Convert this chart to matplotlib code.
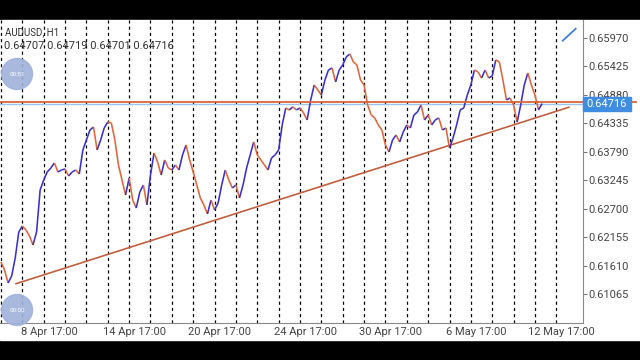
import numpy as np
import matplotlib
matplotlib.use("Agg")
import matplotlib.pyplot as plt
from matplotlib.collections import LineCollection
from matplotlib.patches import Circle, Rectangle
from matplotlib.lines import Line2D

plt.rcParams['font.family'] = ['Roboto', 'DejaVu Sans']

# AUDUSD H1 closes, one every 4 bars, bar 0 = 6 Apr 17:00
step = 4
closes = [
    0.61687, 0.61534, 0.61285, 0.61419, 0.61763, 0.62261, 0.62375, 0.62299, 0.62184, 0.62012,
    0.62261, 0.63064, 0.63255, 0.63408, 0.63484, 0.63580, 0.63408, 0.63446, 0.63465, 0.63331,
    0.63408, 0.63446, 0.63370, 0.63829, 0.64020, 0.64211, 0.64268, 0.63829, 0.64020, 0.64249,
    0.64364, 0.64345, 0.64020, 0.63542, 0.63255, 0.62968, 0.63293, 0.62872, 0.62719, 0.63025,
    0.63159, 0.62777, 0.63351, 0.63771, 0.63599, 0.63351, 0.63637, 0.63484, 0.63446, 0.63542,
    0.63446, 0.63733, 0.63924, 0.63637, 0.63408, 0.63159, 0.62911, 0.62777, 0.62605, 0.62872,
    0.62681, 0.62815, 0.63159, 0.63446, 0.63255, 0.63102, 0.63159, 0.62911, 0.63159, 0.63484,
    0.63733, 0.63982, 0.63733, 0.63637, 0.63542, 0.63446, 0.63676, 0.63733, 0.63829, 0.64307,
    0.64632, 0.64594, 0.64651, 0.64594, 0.64632, 0.64536, 0.64402, 0.64785, 0.65072, 0.64976,
    0.64880, 0.65167, 0.65358, 0.65397, 0.65129, 0.65358, 0.65454, 0.65607, 0.65664, 0.65511,
    0.65454, 0.65167, 0.65072, 0.64689, 0.64498, 0.64441, 0.64307, 0.64211, 0.63924, 0.63790,
    0.64020, 0.64115, 0.63982, 0.64173, 0.64307, 0.64249, 0.64498, 0.64555, 0.64689, 0.64402,
    0.64498, 0.64307, 0.64402, 0.64441, 0.64211, 0.64249, 0.63867, 0.64058, 0.64307, 0.64594,
    0.64632, 0.64880, 0.65072, 0.65358, 0.65320, 0.65205, 0.65358, 0.65205, 0.65244, 0.65550,
    0.65511, 0.65167, 0.64785, 0.64823, 0.64689, 0.64364, 0.64689, 0.65072, 0.65301, 0.65072,
    0.64880, 0.64594, 0.64716,
]
bars = np.arange(len(closes)) * step

y_ticks = [0.61065, 0.61610, 0.62155, 0.62700, 0.63245, 0.63790, 0.64335, 0.64880, 0.65425, 0.65970]
x_label_bars = [54, 150, 246, 342, 438, 534, 630]
x_labels = ["8 Apr 17:00", "14 Apr 17:00", "20 Apr 17:00", "24 Apr 17:00",
            "30 Apr 17:00", "6 May 17:00", "12 May 17:00"]
grid_bars = list(range(0, 625, 24))
ohlc = [0.64707, 0.64719, 0.64701, 0.64716]
bid = 0.64716
level = 0.64750
trend_bars = [17, 638]
trend_prices = [0.61272, 0.64645]

fig = plt.figure(figsize=(6.4, 3.6), dpi=100, facecolor='black')
fig.add_artist(Rectangle((0, 20 / 360), 1, 320 / 360, transform=fig.transFigure,
                         color='white', zorder=-1))
ax = fig.add_axes([0, 37 / 360, 583 / 640, 303 / 360])
ax.set_facecolor('white')
ax.set_xlim(-1.1, 654)
ax.set_ylim(0.60520, 0.66314)

for s in ['left', 'top']:
    ax.spines[s].set_visible(False)
for s in ['right', 'bottom']:
    ax.spines[s].set_color('#8a8a8a')
    ax.spines[s].set_linewidth(0.8)

ax.yaxis.tick_right()
ax.set_yticks(y_ticks, [f"{v:.5f}" for v in y_ticks])
ax.tick_params(axis='y', length=3, width=0.8, color='#777777', labelsize=8,
               labelcolor='#444444', pad=1)
ax.set_xticks(x_label_bars, x_labels)
ax.tick_params(axis='x', length=0, pad=3, labelsize=8, labelcolor='#444444')

# dashed vertical grid
for b in grid_bars:
    ax.axvline(b, color='black', lw=0.9, ls=(0, (2.5, 2.5)), zorder=1)

# price path, blue when rising, orange when falling
pts = np.column_stack([bars, closes])
segs = np.stack([pts[:-1], pts[1:]], axis=1)
cols = ['#3a30cc' if c1 >= c0 else '#e2643a' for c0, c1 in zip(closes[:-1], closes[1:])]
ax.add_collection(LineCollection(segs, colors=cols, linewidths=1.15, zorder=3,
                                 capstyle='butt'))

# levels
ax.plot([0, 636 / 583], [level, level], transform=ax.get_yaxis_transform(),
        color='#d9663c', lw=1.3, clip_on=False, zorder=4)
ax.axhline(bid, color='#9cc3ee', lw=1.0, zorder=2)
ax.plot(trend_bars, trend_prices, color='#c0603f', lw=1.2, zorder=2)

# bid label box
ax.add_patch(Rectangle((1.0, bid - 0.00134), 48 / 583, 0.00268,
                       transform=ax.get_yaxis_transform(), clip_on=False,
                       color='#3f8de0', zorder=5))
ax.text(1.006, bid, f"{bid:.5f}", transform=ax.get_yaxis_transform(), color='white',
        fontsize=8, va='center', ha='left', zorder=6, clip_on=False)

# header texts
fig.text(5 / 640, 1 - 32 / 360, "AUDUSD, H1", fontsize=7, va='center', color='#333333')
fig.text(4 / 640, 1 - 46 / 360, " ".join(f"{v:.5f}" for v in ohlc), fontsize=8,
         va='center', color='#333333')

# round buttons
for cy, lab in [(74, "00:51"), (310, "00:00")]:
    fig.add_artist(Circle((0.17, (360 - cy) / 100), 0.155, transform=fig.dpi_scale_trans,
                          color='#9fb2da', alpha=0.9, zorder=10))
    fig.text(17 / 640, 1 - cy / 360, lab, fontsize=4.5, color='white', ha='center',
             va='center', zorder=11)

# tool icon
fig.add_artist(Line2D([562.7 / 640, 575.7 / 640], [1 - 40.7 / 360, 1 - 28.7 / 360],
                      transform=fig.transFigure, color='#3f7fd8', lw=1.3))

fig.savefig('out.png', dpi=100, facecolor='black')
